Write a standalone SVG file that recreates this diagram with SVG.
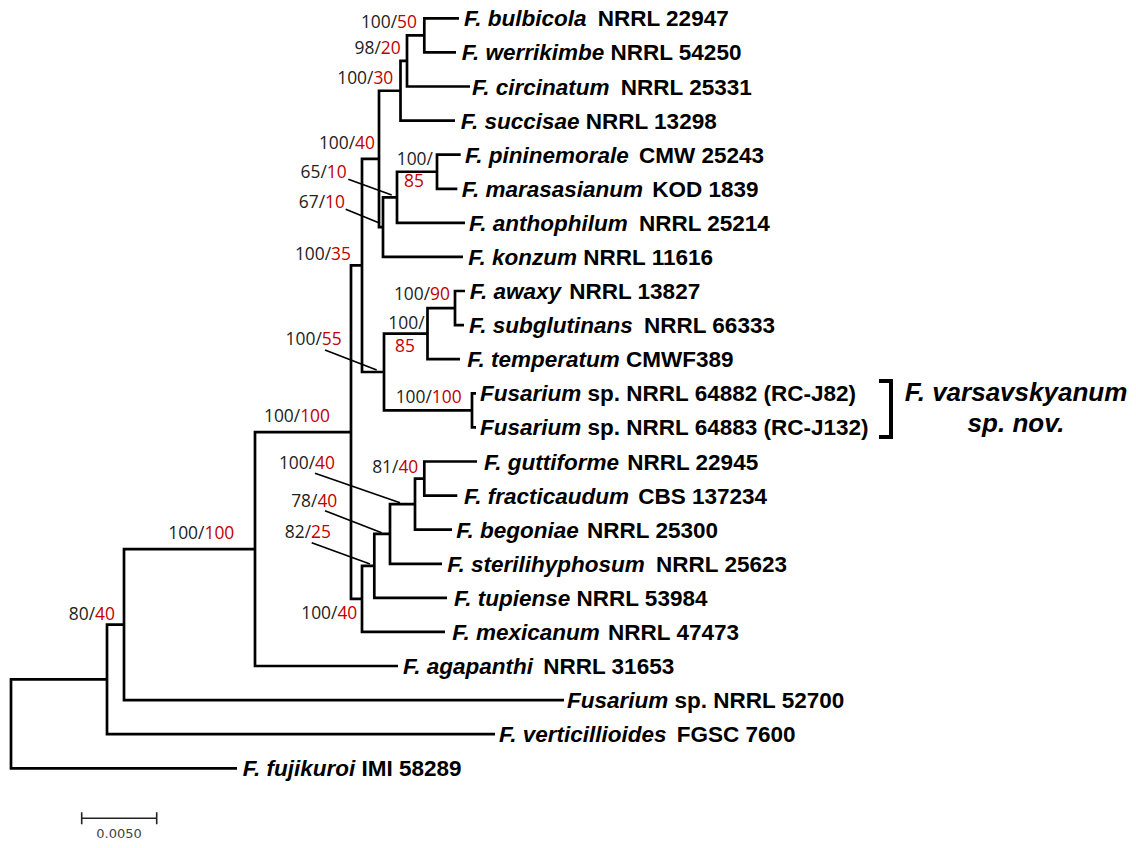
<svg xmlns="http://www.w3.org/2000/svg" width="1136" height="848" viewBox="0 0 1136 848">
<style>
.br{fill:none;stroke:#000;stroke-width:2.7;stroke-linecap:butt;stroke-linejoin:miter}
.ld{fill:none;stroke:#000;stroke-width:1.7}
.tx{font-family:"Liberation Sans",Arial,sans-serif;font-size:22.5px;font-weight:bold;fill:#000}
.sp{font-style:italic}
.bs{font-family:"Open Sans","Liberation Sans",sans-serif;font-size:17.4px;fill:#222}
.r{fill:#c00000}
.big{font-family:"Liberation Sans",Arial,sans-serif;font-size:26px;font-weight:bold;font-style:italic;fill:#000}
.sc{font-family:"DejaVu Sans",sans-serif;font-size:13px;fill:#444}
</style>
<rect width="1136" height="848" fill="#fff"/>
<g id="connectors">
<path class="br" d="M107,679.4H11V768.3H237"/>
<path class="br" d="M124,624.6H107V734.2H495"/>
<path class="br" d="M255,549.1H124V700.1H564"/>
<path class="br" d="M351,432.2H255V666H398"/>
<path class="br" d="M362,265.45H351V598.9H362"/>
<path class="br" d="M379,158.9H362V372H384"/>
<path class="br" d="M400.5,90.75H379V227.1H383"/>
<path class="br" d="M407,60.9H400.5V120.6H455"/>
<path class="br" d="M424.3,35.35H407V86.5H470"/>
<path class="br" d="M459,18.3H424.3V52.4H456"/>
<path class="br" d="M397,197.3H383V256.9H463"/>
<path class="br" d="M437,171.75H397V222.8H465"/>
<path class="br" d="M460.7,154.7H437V188.8H457.3"/>
<path class="br" d="M427.5,333.6H384V410.35H472"/>
<path class="br" d="M455,308.05H427.5V359.2H460"/>
<path class="br" d="M465,291H455V325.1H464"/>
<path class="br" d="M476,393.3H472V427.4H476"/>
<path class="br" d="M374.3,565.9H362V631.9H445"/>
<path class="br" d="M390,533.95H374.3V597.8H447"/>
<path class="br" d="M415,504.1H390V563.8H442"/>
<path class="br" d="M424.3,478.55H415V529.7H452"/>
<path class="br" d="M477,461.5H424.3V495.6H457.3"/>
<path class="ld" d="M348.3,179.3L391.7,195M345.7,209.3L380,223.3M325,350L376.7,370M315,473.3L400,502.7M325,510.7L381.7,532.7M311.7,542.7L370,564"/>
</g>
<g id="taxa">
<g id="t1"><text class="tx" x="464" y="26.3"><tspan class="sp">F. bulbicola</tspan><tspan dx="5"> NRRL 22947</tspan></text></g>
<g id="t2"><text class="tx" x="461.7" y="60.4"><tspan class="sp">F. werrikimbe</tspan> NRRL 54250</text></g>
<g id="t3"><text class="tx" x="472" y="94.5"><tspan class="sp">F. circinatum</tspan><tspan dx="5"> NRRL 25331</tspan></text></g>
<g id="t4"><text class="tx" x="460.7" y="128.6"><tspan class="sp">F. succisae</tspan> NRRL 13298</text></g>
<g id="t5"><text class="tx" x="465" y="162.7"><tspan class="sp">F. pininemorale</tspan><tspan dx="4"> CMW 25243</tspan></text></g>
<g id="t6"><text class="tx" x="461.7" y="196.8"><tspan class="sp">F. marasasianum</tspan><tspan dx="3"> KOD 1839</tspan></text></g>
<g id="t7"><text class="tx" x="469" y="230.8"><tspan class="sp">F. anthophilum</tspan><tspan dx="5"> NRRL 25214</tspan></text></g>
<g id="t8"><text class="tx" x="468.3" y="264.9"><tspan class="sp">F. konzum</tspan> NRRL 11616</text></g>
<g id="t9"><text class="tx" x="469.7" y="299"><tspan class="sp">F. awaxy</tspan><tspan dx="2"> NRRL 13827</tspan></text></g>
<g id="t10"><text class="tx" x="469" y="333.1"><tspan class="sp">F. subglutinans</tspan><tspan dx="5"> NRRL 66333</tspan></text></g>
<g id="t11"><text class="tx" x="467.3" y="367.2"><tspan class="sp">F. temperatum</tspan> CMWF389</text></g>
<g id="t12"><text class="tx" x="480" y="401.3"><tspan class="sp">Fusarium</tspan> sp. NRRL 64882 (RC-J82)</text></g>
<g id="t13"><text class="tx" x="480" y="435.4"><tspan class="sp">Fusarium</tspan> sp. NRRL 64883 (RC-J132)</text></g>
<g id="t14"><text class="tx" x="484" y="469.5"><tspan class="sp">F. guttiforme</tspan><tspan dx="2"> NRRL 22945</tspan></text></g>
<g id="t15"><text class="tx" x="464" y="503.6"><tspan class="sp">F. fracticaudum</tspan><tspan dx="3"> CBS 137234</tspan></text></g>
<g id="t16"><text class="tx" x="456.3" y="537.7"><tspan class="sp">F. begoniae</tspan><tspan dx="2"> NRRL 25300</tspan></text></g>
<g id="t17"><text class="tx" x="447.3" y="571.8"><tspan class="sp">F. sterilihyphosum</tspan><tspan dx="5"> NRRL 25623</tspan></text></g>
<g id="t18"><text class="tx" x="454" y="605.8"><tspan class="sp">F. tupiense</tspan> NRRL 53984</text></g>
<g id="t19"><text class="tx" x="452.3" y="639.9"><tspan class="sp">F. mexicanum</tspan><tspan dx="2"> NRRL 47473</tspan></text></g>
<g id="t20"><text class="tx" x="403" y="674"><tspan class="sp">F. agapanthi</tspan><tspan dx="4"> NRRL 31653</tspan></text></g>
<g id="t21"><text class="tx" x="567" y="708.1"><tspan class="sp">Fusarium</tspan> sp. NRRL 52700</text></g>
<g id="t22"><text class="tx" x="499" y="742.2"><tspan class="sp">F. verticillioides</tspan><tspan dx="4"> FGSC 7600</tspan></text></g>
<g id="t23"><text class="tx" x="242.8" y="776.3"><tspan class="sp">F. fujikuroi</tspan> IMI 58289</text></g>
</g>
<g id="support">
<text class="bs" text-anchor="end" x="417" y="27.6">100/<tspan class="r">50</tspan></text>
<text class="bs" text-anchor="end" x="400.7" y="54.1">98/<tspan class="r">20</tspan></text>
<text class="bs" text-anchor="end" x="393.3" y="83.6">100/<tspan class="r">30</tspan></text>
<text class="bs" text-anchor="end" x="375" y="148.6">100/<tspan class="r">40</tspan></text>
<text class="bs" text-anchor="end" x="346.7" y="177.9">65/<tspan class="r">10</tspan></text>
<text class="bs" text-anchor="end" x="345" y="207.9">67/<tspan class="r">10</tspan></text>
<text class="bs" x="396.7" y="164.5">100/</text>
<text class="bs r" x="404" y="186.9">85</text>
<text class="bs" text-anchor="end" x="351" y="259.5">100/<tspan class="r">35</tspan></text>
<text class="bs" text-anchor="end" x="450" y="299.5">100/<tspan class="r">90</tspan></text>
<text class="bs" x="388.3" y="328.5">100/</text>
<text class="bs r" x="395" y="352.1">85</text>
<text class="bs" text-anchor="end" x="341.7" y="345.1">100/<tspan class="r">55</tspan></text>
<text class="bs" text-anchor="end" x="461.7" y="402.5">100/<tspan class="r">100</tspan></text>
<text class="bs" text-anchor="end" x="330" y="421.9">100/<tspan class="r">100</tspan></text>
<text class="bs" text-anchor="end" x="418.3" y="472.9">81/<tspan class="r">40</tspan></text>
<text class="bs" text-anchor="end" x="335" y="468.5">100/<tspan class="r">40</tspan></text>
<text class="bs" text-anchor="end" x="337.3" y="506.9">78/<tspan class="r">40</tspan></text>
<text class="bs" text-anchor="end" x="331" y="537.5">82/<tspan class="r">25</tspan></text>
<text class="bs" text-anchor="end" x="357.3" y="619.1">100/<tspan class="r">40</tspan></text>
<text class="bs" text-anchor="end" x="234.3" y="538.5">100/<tspan class="r">100</tspan></text>
<text class="bs" text-anchor="end" x="115" y="619.5">80/<tspan class="r">40</tspan></text>
</g>
<g id="newspecies">
<path fill="none" stroke="#000" stroke-width="4" d="M879,381H891V437H879"/>
<text class="big" text-anchor="middle" x="1016" y="401">F. varsavskyanum</text>
<text class="big" text-anchor="middle" x="1016" y="432">sp. nov.</text>
</g>
<g id="scalebar">
<path fill="none" stroke="#222" stroke-width="1.6" d="M81.7,818.3H156.7M81.7,812.3V824.3M156.7,812.3V824.3"/>
<text class="sc" text-anchor="middle" x="119" y="838">0.0050</text>
</g>
</svg>
